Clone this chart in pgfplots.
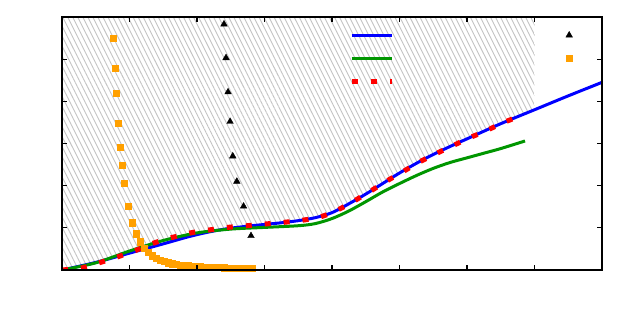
\documentclass[border=0pt]{standalone}
\usepackage{pgfplots}
\pgfplotsset{compat=1.18}
\usepgfplotslibrary{fillbetween}
\usetikzlibrary{patterns.meta}
\definecolor{cgreen}{RGB}{0,150,0}
\definecolor{corange}{RGB}{255,160,0}
\definecolor{chatch}{RGB}{195,195,195}
\pgfplotsset{
  linelegend/.style={legend image code/.code={\draw[##1, line cap=butt] (0bp,0bp) -- (40bp,0bp);}},
  marklegend/.style={legend image code/.code={\draw[##1] plot coordinates {(0bp,0bp)};}},
}
\begin{document}
\begin{tikzpicture}
\begin{axis}[
  at={(0,0)}, anchor=south west, scale only axis, width=540bp, height=253bp,
  xmin=0, xmax=8, ymin=0, ymax=6,
  xtick={0,...,8}, ytick={0,...,6}, xticklabels={}, yticklabels={},
  tick align=inside, major tick length=5bp,
  tick style={black, line width=1.2bp},
  axis line style={line width=2.5bp, black},
  axis on top,
  legend columns=2,
  legend style={draw=none, fill=none, inner sep=0pt, at={(0.5315,0.9743)}, anchor=north west,
    column sep=0pt, row sep=0pt,
    nodes={inner sep=0pt, minimum height=23bp, text depth=0pt},
    /tikz/every even column/.append style={column sep=170.7bp}},
]
\addlegendimage{blue, line width=3bp, linelegend}
\addlegendentry{\mbox{}}
\addlegendimage{only marks, mark=triangle*, mark size=3.8bp, black, marklegend}
\addlegendentry{\mbox{}}
\addlegendimage{cgreen, line width=3bp, linelegend}
\addlegendentry{\mbox{}}
\addlegendimage{only marks, mark=square*, mark size=3.1bp, corange, marklegend}
\addlegendentry{\mbox{}}
\addlegendimage{red, line width=5bp, dash pattern=on 6bp off 13bp, linelegend}
\addlegendentry{\mbox{}}

\addplot[draw=none, name path=bl, smooth, forget plot] coordinates {
(0,0) (0.5,0.18) (1,0.40) (1.5,0.62) (1.9,0.80) (2.2,0.91) (2.45,0.98) (2.75,1.04) (3,1.08) (3.25,1.12) (3.5,1.17) (3.75,1.24) (4,1.36) (4.25,1.57) (4.5,1.80) (4.75,2.05) (5,2.30) (5.25,2.53) (5.5,2.74) (5.75,2.93) (6,3.11) (6.5,3.47) (7,3.80) (7.5,4.13) (8,4.45)};
\addplot[draw=none, name path=tp, forget plot] coordinates {(0,6) (8,6)};
\addplot[draw=none, pattern={Lines[angle=-63.4, distance=4.5bp, line width=0.9bp]}, pattern color=chatch, forget plot]
  fill between[of=bl and tp, soft clip={domain=0:7}];

\addplot[blue, line width=3bp, smooth, forget plot] coordinates {
(0,0) (0.5,0.18) (1,0.40) (1.5,0.62) (1.9,0.80) (2.2,0.91) (2.45,0.98) (2.75,1.04) (3,1.08) (3.25,1.12) (3.5,1.17) (3.75,1.24) (4,1.36) (4.25,1.57) (4.5,1.80) (4.75,2.05) (5,2.30) (5.25,2.53) (5.5,2.74) (5.75,2.93) (6,3.11) (6.5,3.47) (7,3.80) (7.5,4.13) (8,4.45)};
\addplot[cgreen, line width=3bp, smooth, forget plot] coordinates {
(0,0) (0.5,0.17) (1,0.45) (1.5,0.70) (2,0.88) (2.5,0.97) (3,1.01) (3.5,1.05) (3.75,1.10) (4,1.22) (4.25,1.40) (4.5,1.62) (4.75,1.85) (5,2.05) (5.25,2.24) (5.5,2.41) (5.75,2.55) (6,2.66) (6.25,2.77) (6.5,2.88) (6.86,3.06)};
\addplot[red, line width=5bp, dash pattern=on 6bp off 13bp, line cap=butt, smooth, forget plot] coordinates {
(0,0) (0.31,0.055) (0.59,0.19) (0.84,0.32) (1.10,0.47) (1.36,0.64) (1.63,0.77) (1.90,0.88) (2.18,0.95) (2.45,1.01) (2.74,1.05) (3.01,1.09) (3.28,1.13) (3.56,1.18) (3.83,1.26) (4.08,1.42) (4.31,1.62) (4.56,1.86) (4.80,2.10) (5.05,2.33) (5.27,2.54) (5.53,2.75) (5.78,2.94) (6.03,3.13) (6.28,3.30) (6.53,3.49) (6.80,3.66)};
\addplot[only marks, mark=triangle*, mark size=3.8bp, black, forget plot] coordinates {
(2.40,5.83) (2.43,5.03) (2.46,4.22) (2.49,3.52) (2.53,2.70) (2.59,2.10) (2.69,1.51) (2.80,0.81)};
\addplot[only marks, mark=square*, mark size=3.1bp, corange, forget plot] coordinates {
(0.760,5.49) (0.785,4.78) (0.804,4.19) (0.834,3.48) (0.864,2.92) (0.893,2.49) (0.923,2.06) (0.982,1.52) (1.041,1.12) (1.101,0.86) (1.160,0.67) (1.219,0.52) (1.279,0.42) (1.338,0.34) (1.397,0.285) (1.456,0.24) (1.516,0.205) (1.575,0.175) (1.634,0.15) (1.693,0.135) (1.753,0.12) (1.812,0.11) (1.871,0.10) (1.930,0.092) (1.990,0.085) (2.049,0.078) (2.108,0.072) (2.167,0.068) (2.227,0.064) (2.286,0.060) (2.345,0.057) (2.404,0.054) (2.464,0.052) (2.523,0.050) (2.582,0.048) (2.641,0.047) (2.701,0.046) (2.760,0.045) (2.819,0.044)};
\end{axis}
\path (-62bp,-44bp) rectangle (567bp,270bp);
\end{tikzpicture}
\end{document}
